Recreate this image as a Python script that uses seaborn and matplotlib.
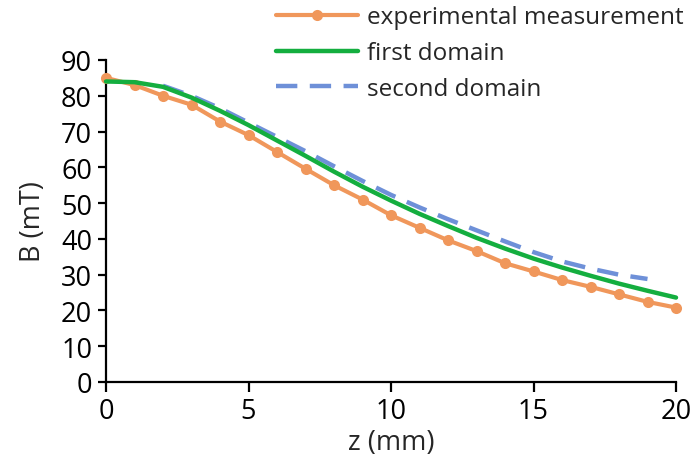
import numpy as np
import pandas as pd
import seaborn as sns
import matplotlib
matplotlib.use("Agg")
import matplotlib.pyplot as plt

# data
z_exp = [0, 1, 2, 3, 4, 5, 6, 7, 8, 9, 10, 11, 12, 13, 14, 15, 16, 17, 18, 19, 20]
b_exp = [85.0, 83.0, 80.0, 77.5, 72.8, 69.0, 64.3, 59.6, 55.0, 51.0, 46.6, 43.1, 39.6, 36.6,
         33.2, 30.9, 28.5, 26.6, 24.5, 22.4, 20.8]
z_first = [0, 1, 2, 3, 4, 5, 6, 7, 8, 9, 10, 11, 12, 13, 14, 15, 16, 17, 18, 19, 20]
b_first = [84.0, 83.8, 82.5, 79.5, 75.8, 71.8, 67.5, 63.2, 58.8, 54.6, 50.7, 47.0, 43.6,
           40.3, 37.3, 34.5, 32.0, 29.7, 27.5, 25.5, 23.6]
z_second = [2, 3, 4, 5, 6, 7, 8, 9, 10, 11, 12, 13, 14, 15, 16, 17, 18, 19]
b_second = [82.8, 80.0, 76.5, 72.5, 68.5, 64.5, 60.3, 56.2, 52.3, 48.8, 45.5, 42.4, 39.3,
            36.3, 33.7, 31.7, 30.0, 28.8]
x_ticks = [0, 5, 10, 15, 20]
y_ticks = [0, 10, 20, 30, 40, 50, 60, 70, 80, 90]

sns.set_style("ticks")
plt.rcParams['font.family'] = ['Open Sans', 'DejaVu Sans']

fig = plt.figure(figsize=(6.96, 4.56), dpi=100)
ax = fig.add_axes([106/696, 73/456, 570/696, 322/456])

c_orange = "#F0975B"
c_green = "#14AE3F"
c_blue = "#6E90D8"

sns.lineplot(x=z_exp, y=b_exp, ax=ax, color=c_orange, lw=3, marker="o", markersize=8,
             markeredgewidth=0, label="experimental measurement", clip_on=False, zorder=3)
sns.lineplot(x=z_first, y=b_first, ax=ax, color=c_green, lw=3.2,
             label="first domain", clip_on=False, zorder=4)
sns.lineplot(x=z_second, y=b_second, ax=ax, color=c_blue, lw=3.2, dashes=False,
             label="second domain", clip_on=False, zorder=2)
ax.lines[-1].set_dashes([4.8, 2.8])

ax.set_xlim(0, 20)
ax.set_ylim(0, 90)
ax.set_xticks(x_ticks)
ax.set_yticks(y_ticks)
ax.tick_params(axis='both', labelsize=19.5, colors='black', width=1.6, direction='out')
ax.tick_params(axis='x', length=7, pad=4)
ax.tick_params(axis='y', length=6, pad=4)
for s in ['top', 'right']:
    ax.spines[s].set_visible(False)
for s in ['left', 'bottom']:
    ax.spines[s].set_color('black')
    ax.spines[s].set_linewidth(1.6)

ax.set_xlabel("z (mm)", fontsize=19.5, labelpad=2)
ax.set_ylabel("B (mT)", fontsize=19.5, labelpad=10)

handles, labels = ax.get_legend_handles_labels()
ax.get_legend().remove()
leg = fig.legend(handles, labels, loc='upper right', bbox_to_anchor=(1.003, 1.018), frameon=False,
                 fontsize=17.5, handlelength=3.4, handletextpad=0.35, labelspacing=0.48,
                 borderaxespad=0.2)
leg.get_lines()[2].set_dashes([4.8, 2.8])

fig.savefig("out.png", dpi=100)
